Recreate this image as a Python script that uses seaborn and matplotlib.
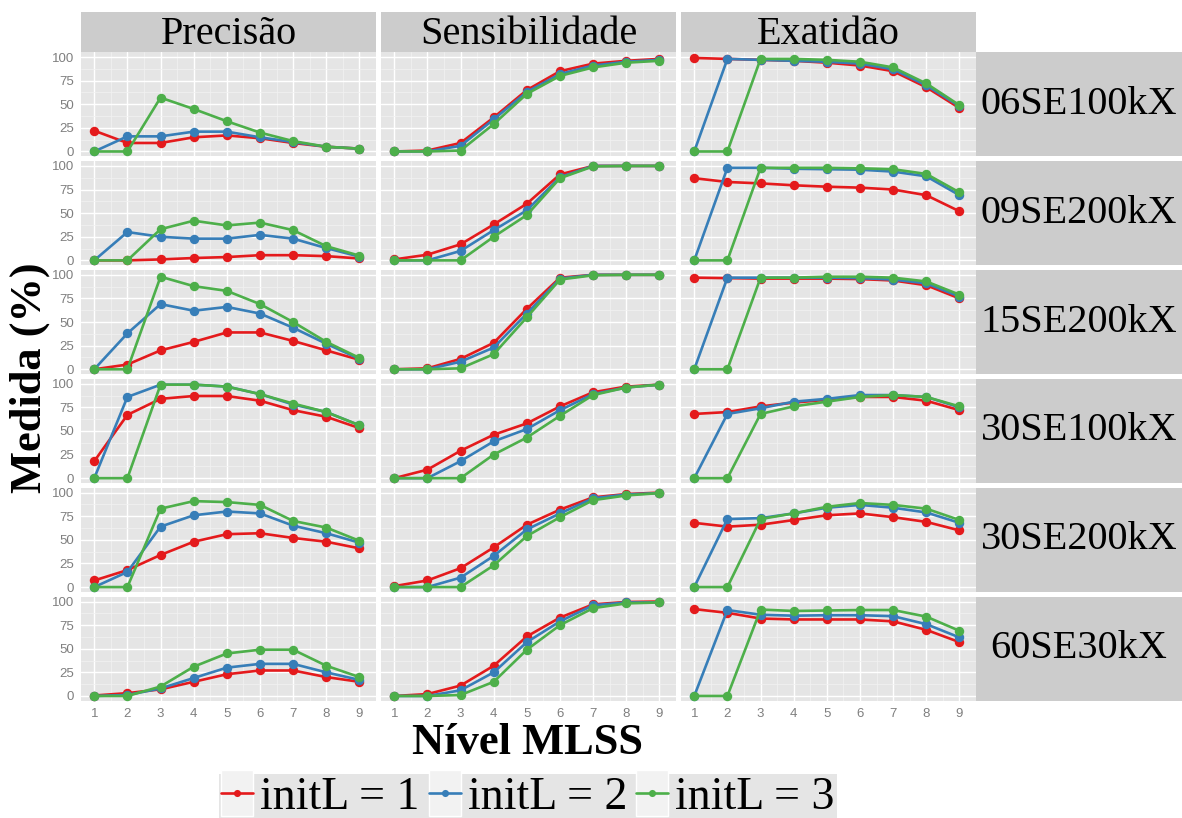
import numpy as np
import pandas as pd
import matplotlib
matplotlib.use("Agg")
import matplotlib.pyplot as plt
from matplotlib.lines import Line2D
from matplotlib.patches import Rectangle
from matplotlib.legend_handler import HandlerLine2D
import seaborn as sns

# ---- data -------------------------------------------------------------
levels = [1, 2, 3, 4, 5, 6, 7, 8, 9]
metrics = ["Precisão", "Sensibilidade", "Exatidão"]
datasets = ["06SE100kX", "09SE200kX", "15SE200kX", "30SE100kX", "30SE200kX", "60SE30kX"]
init_levels = [1, 2, 3]

# each list holds three series: initL = 1, 2, 3
prec_06SE100kX = [[22, 9, 9, 15, 17, 14, 9, 5, 3],
                  [0, 16, 16, 21, 21, 15, 10, 5, 3],
                  [0, 0, 57, 45, 32, 20, 11, 5, 3]]
sens_06SE100kX = [[0, 1, 9, 36, 65, 85, 93, 96, 98],
                  [0, 0, 6, 34, 63, 82, 91, 95, 97],
                  [0, 0, 1, 29, 61, 80, 89, 94, 96]]
exat_06SE100kX = [[99, 98, 97, 96, 94, 91, 85, 68, 46],
                  [0, 98, 97, 96, 95, 93, 87, 70, 48],
                  [0, 0, 98, 98, 97, 95, 89, 72, 49]]

prec_09SE200kX = [[0, 0, 1, 2.5, 3.5, 5.5, 5.5, 4.5, 2],
                  [0, 30, 25, 23, 23, 27, 23, 13, 4],
                  [0, 0, 33, 42, 37, 40, 32, 15, 5]]
sens_09SE200kX = [[1, 6, 17, 38, 60, 91, 100, 100, 100],
                  [0, 0, 10, 32, 53, 88, 100, 100, 100],
                  [0, 0, 0, 25, 48, 87, 99.5, 100, 100]]
exat_09SE200kX = [[87, 83, 81.5, 79.5, 78, 77, 75, 69, 52],
                  [0, 98, 98, 97, 96.5, 96, 94, 89, 69],
                  [0, 0, 98, 98, 98, 97.5, 96.5, 91.5, 72]]

prec_15SE200kX = [[0, 5, 20, 29, 39, 39, 30, 20, 10],
                  [0, 38, 69, 62, 66, 59, 44, 27, 11],
                  [0, 0, 98, 88, 83, 69, 50, 29, 12]]
sens_15SE200kX = [[0, 1, 11, 28, 64, 97, 100, 100, 100],
                  [0, 0, 8, 23, 59, 96, 100, 100, 100],
                  [0, 0, 1, 16, 55, 95, 99.5, 100, 100]]
exat_15SE200kX = [[97, 96.5, 96, 96, 96, 95.5, 94, 89, 75],
                  [0, 97, 97, 97, 97, 96.5, 95, 91, 77],
                  [0, 0, 97, 97, 98, 98, 97, 93, 79]]

prec_30SE100kX = [[18, 67, 84, 87, 87, 82, 72, 65, 53],
                  [0, 86, 99, 99, 97, 89, 78, 70, 56],
                  [0, 0, 99, 99, 97, 89, 79, 70, 56]]
sens_30SE100kX = [[0, 9, 29, 46, 58, 76, 91, 97, 99],
                  [0, 0, 18, 39, 52, 72, 89, 96, 99],
                  [0, 0, 0, 25, 43, 66, 88, 96, 99]]
exat_30SE100kX = [[68, 70, 76, 80, 83, 86, 86, 82, 72],
                  [0, 68, 74, 81, 84, 88, 88, 86, 75],
                  [0, 0, 68, 76, 81, 86, 88, 86, 76]]

prec_30SE200kX = [[7, 18, 34, 48, 56, 57, 52, 48, 41],
                  [0, 16, 64, 76, 80, 78, 65, 57, 47],
                  [0, 0, 83, 91, 90, 87, 70, 63, 49]]
sens_30SE200kX = [[1, 7, 20, 42, 66, 82, 95, 98.5, 100],
                  [0, 0, 10, 33, 61, 78, 94, 98, 99.5],
                  [0, 0, 0, 23, 54, 74, 92, 97, 99.5]]
exat_30SE200kX = [[68, 64, 66, 71, 76, 78, 74, 69, 60],
                  [0, 72, 73, 78, 84, 87, 84, 79, 68],
                  [0, 0, 72, 78, 85, 89, 87, 83, 71]]

prec_60SE30kX = [[0.5, 3, 7, 15, 23, 27, 27, 20, 15],
                 [0, 1, 8, 19, 30, 34, 34, 25, 17],
                 [0, 0, 10, 31, 45, 49, 49, 32, 20]]
sens_60SE30kX = [[0, 2, 11, 32, 63, 83, 97, 99.5, 100],
                 [0, 0, 6, 25, 57, 79, 96, 99, 99],
                 [0, 0, 1, 15, 49, 75, 93, 98, 99]]
exat_60SE30kX = [[92, 88, 82, 81, 81, 81, 79, 70, 57],
                 [0, 91, 86, 85, 85.5, 85.5, 84.5, 76, 62],
                 [0, 0, 91.5, 90, 90.5, 91, 91, 84, 69]]

table = {
    "06SE100kX": (prec_06SE100kX, sens_06SE100kX, exat_06SE100kX),
    "09SE200kX": (prec_09SE200kX, sens_09SE200kX, exat_09SE200kX),
    "15SE200kX": (prec_15SE200kX, sens_15SE200kX, exat_15SE200kX),
    "30SE100kX": (prec_30SE100kX, sens_30SE100kX, exat_30SE100kX),
    "30SE200kX": (prec_30SE200kX, sens_30SE200kX, exat_30SE200kX),
    "60SE30kX": (prec_60SE30kX, sens_60SE30kX, exat_60SE30kX),
}

rows = []
for ds in datasets:
    for metric, block in zip(metrics, table[ds]):
        for init, series in zip(init_levels, block):
            for lvl, val in zip(levels, series):
                rows.append({"dataset": ds, "metric": metric, "initL": init,
                             "nivel": lvl, "valor": val})
df = pd.DataFrame(rows)

# ---- style ------------------------------------------------------------
sns.set_theme(style="white")
plt.rcParams["font.family"] = ["Liberation Serif", "DejaVu Serif"]
plt.rcParams["text.color"] = "black"

palette = {1: "#E41A1C", 2: "#377EB8", 3: "#4DAF4A"}
PANEL_BG = "#E5E5E5"
STRIP_BG = "#CCCCCC"
TICK_COL = "#7F7F7F"
LW = 1.9
MS = 6.8

W, H = 1182, 818
fig = plt.figure(figsize=(W / 100, H / 100), dpi=100)
fig.patch.set_facecolor("white")


def frac_box(x0, y0, w, h):
    """pixel box (top-left origin) -> figure fraction rect"""
    return [x0 / W, 1 - (y0 + h) / H, w / W, h / H]


col_x = [81, 381, 681]
pw = 295
row_top = 52.3
ph = 103.9
gap = 5.0
strip_top = 12.0
right_strip_x = 976
right_strip_w = W - right_strip_x

tick_font = {"family": "Liberation Sans", "size": 9.5, "color": TICK_COL}

for r, ds in enumerate(datasets):
    y0 = row_top + r * (ph + gap)
    for c, metric in enumerate(metrics):
        ax = fig.add_axes(frac_box(col_x[c], y0, pw, ph))
        ax.set_facecolor(PANEL_BG)
        sub = df[(df["dataset"] == ds) & (df["metric"] == metric)]
        ax.set_xticks(levels)
        ax.set_xticks(np.arange(1.5, 9, 1), minor=True)
        ax.set_yticks([0, 25, 50, 75, 100])
        ax.set_yticks([12.5, 37.5, 62.5, 87.5], minor=True)
        ax.grid(which="major", color="white", lw=1.0)
        ax.grid(which="minor", color="#F2F2F2", lw=0.5)
        ax.set_axisbelow(True)
        sns.lineplot(data=sub, x="nivel", y="valor", hue="initL",
                     hue_order=init_levels, palette=palette, marker="o",
                     markersize=MS, markeredgewidth=0, linewidth=LW,
                     errorbar=None, legend=False, ax=ax, zorder=3)
        ax.set_xlim(0.6, 9.5)
        ax.set_ylim(-5, 105)
        ax.set_xlabel("")
        ax.set_ylabel("")
        for s in ax.spines.values():
            s.set_visible(False)
        ax.tick_params(which="minor", length=0)
        ax.tick_params(which="major", length=3.2, width=0.8, color=TICK_COL, pad=2)
        if c == 0:
            ax.set_yticklabels(["0", "25", "50", "75", "100"], fontdict=tick_font)
        else:
            ax.tick_params(axis="y", which="major", length=0)
            ax.set_yticklabels([])
        if r == len(datasets) - 1:
            ax.set_xticklabels([str(v) for v in levels], fontdict=tick_font)
        else:
            ax.tick_params(axis="x", which="major", length=0)
            ax.set_xticklabels([])

    # row strip on the right
    sax = fig.add_axes(frac_box(right_strip_x, y0, right_strip_w, ph))
    sax.set_facecolor(STRIP_BG)
    sax.set_xticks([]); sax.set_yticks([])
    for s in sax.spines.values():
        s.set_visible(False)
    sax.text(0.5, 0.5, ds, ha="center", va="center", fontsize=29,
             color="black", transform=sax.transAxes)

# column strips on top
for c, metric in enumerate(metrics):
    sax = fig.add_axes(frac_box(col_x[c], strip_top, pw, row_top - strip_top))
    sax.set_facecolor(STRIP_BG)
    sax.set_xticks([]); sax.set_yticks([])
    for s in sax.spines.values():
        s.set_visible(False)
    sax.text(0.5, 0.45, metric, ha="center", va="center", fontsize=29,
             color="black", transform=sax.transAxes)

# axis titles
fig.text(528 / W, 1 - 743 / H, "Nível MLSS", ha="center", va="center",
         fontsize=32, fontweight="bold", color="black")
fig.text(30 / W, 1 - 378 / H, "Medida (%)", ha="center", va="center",
         rotation=90, fontsize=32, fontweight="bold", color="black")


# legend with shaded key boxes
class KeyHandler(HandlerLine2D):
    def create_artists(self, legend, orig_handle, xdescent, ydescent,
                       width, height, fontsize, trans):
        box = Rectangle((-xdescent, -ydescent - 5), width, height + 10,
                        facecolor="#F2F2F2", edgecolor="white", lw=1.0,
                        transform=trans)
        arts = super().create_artists(legend, orig_handle, xdescent, ydescent,
                                      width, height, fontsize, trans)
        return [box] + list(arts)


handles = [Line2D([], [], color=palette[k], lw=LW, marker="o", ms=MS * 0.75,
                  mew=0) for k in init_levels]
labels = [f"initL = {k}" for k in init_levels]
leg = fig.legend(handles, labels, loc="upper center",
                 bbox_to_anchor=(528 / W, 1 - 774 / H), ncol=3, fontsize=33,
                 frameon=True, fancybox=False, borderpad=0.05,
                 borderaxespad=0.0,
                 handlelength=0.7, handleheight=0.7, handletextpad=0.15,
                 columnspacing=0.2, numpoints=1, labelcolor="black",
                 handler_map={Line2D: KeyHandler(numpoints=1)})
frame = leg.get_frame()
frame.set_facecolor(PANEL_BG)
frame.set_edgecolor("none")
frame.set_alpha(1)

fig.savefig("out.png", dpi=100)
